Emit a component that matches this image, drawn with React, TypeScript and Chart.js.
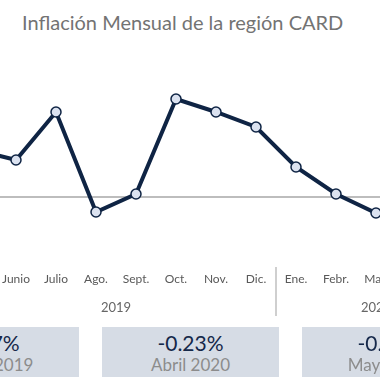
import React, { useEffect, useRef } from "react";
import { Chart, registerables } from "chart.js";

Chart.register(...registerables);

const monthLabels = ["Mayo", "Junio", "Julio", "Ago.", "Sept.", "Oct.", "Nov.", "Dic.", "Ene.", "Febr.", "Mar.", "Abr.", "Mayo"];
const inflation = [0.47, 0.37, 0.85, -0.15, 0.03, 0.98, 0.85, 0.70, 0.30, 0.03, -0.16, -0.23, -0.09];
const yearGroups = [
  { label: "2019", from: 0, to: 7 },
  { label: "2020", from: 8, to: 12 },
];
const summaryValues = ["0.47%", "-0.23%", "-0.09%"];
const summaryLabels = ["Mayo 2019", "Abril 2020", "Mayo 2020"];

const FONT = "Lato, 'Open Sans', sans-serif";
const NAVY = "#0f2444";

const groupPlugin = {
  id: "groups",
  beforeDatasetsDraw(chart: any) {
    const { ctx, chartArea, scales } = chart;
    const y0 = scales.y.getPixelForValue(0);
    ctx.save();
    ctx.strokeStyle = "#bdbdbd";
    ctx.lineWidth = 2;
    ctx.beginPath();
    ctx.moveTo(chartArea.left, y0);
    ctx.lineTo(chartArea.right, y0);
    ctx.stroke();
    ctx.restore();
  },
  afterDraw(chart: any) {
    const { ctx, chartArea, scales } = chart;
    const x = scales.x;
    const b = chartArea.bottom;
    ctx.save();
    ctx.strokeStyle = "#bfbfbf";
    ctx.lineWidth = 1.5;
    ctx.fillStyle = "#666666";
    ctx.font = `13px ${FONT}`;
    ctx.textAlign = "center";
    ctx.textBaseline = "middle";
    yearGroups.forEach((g, i) => {
      const left = x.getPixelForValue(g.from) - 20;
      const right = x.getPixelForValue(g.to) + 20;
      ctx.fillText(g.label, (left + right) / 2, b + 51);
      if (i < yearGroups.length - 1) {
        const sx = (x.getPixelForValue(g.to) + x.getPixelForValue(yearGroups[i + 1].from)) / 2;
        ctx.beginPath();
        ctx.moveTo(sx, b + 10);
        ctx.lineTo(sx, b + 59);
        ctx.stroke();
      }
    });
    ctx.restore();
  },
};

function LineChart() {
  const ref = useRef<HTMLCanvasElement>(null);
  useEffect(() => {
    if (!ref.current) return;
    const chart = new Chart(ref.current, {
      type: "line",
      data: {
        labels: monthLabels,
        datasets: [
          {
            data: inflation,
            borderColor: NAVY,
            borderWidth: 4,
            pointRadius: 5,
            pointBackgroundColor: "#dbe2f0",
            pointBorderColor: NAVY,
            pointBorderWidth: 1.5,
            tension: 0,
          },
        ],
      },
      options: {
        animation: false,
        responsive: false,
        maintainAspectRatio: false,
        layout: { autoPadding: false, padding: { left: 0, right: 0, top: 0, bottom: 43.6 } },
        plugins: { legend: { display: false }, tooltip: { enabled: false }, title: { display: false } },
        scales: {
          x: {
            offset: true,
            grid: { display: false, drawTicks: true, tickLength: 15 },
            border: { display: false },
            ticks: { color: "#595959", font: { family: FONT, size: 12 }, padding: 0, maxRotation: 0, autoSkip: false },
          },
          y: { display: false, min: -0.6, max: 1.2 },
        },
      },
      plugins: [groupPlugin],
    });
    return () => chart.destroy();
  }, []);
  return <canvas ref={ref} width={520} height={253} style={{ position: "absolute", left: -44, top: 77, width: 520, height: 253 }} />;
}

export default function App() {
  const boxLefts = [-98, 102, 302];
  return (
    <div style={{ position: "fixed", left: 0, top: 0, width: 380, height: 380, overflow: "hidden", background: "#ffffff", fontFamily: FONT }}>
      <div style={{ position: "absolute", left: 22, top: 12, fontSize: 20, lineHeight: "20px", color: "#737373", whiteSpace: "nowrap" }}>
        Inflación Mensual de la región CARD
      </div>
      <LineChart />
      {summaryValues.map((v, i) => (
        <div key={i} style={{ position: "absolute", left: boxLefts[i], top: 327, width: 177, height: 50, background: "#d6dce5", textAlign: "center" }}>
          <div style={{ position: "absolute", left: 0, right: 0, top: 4, fontSize: 21, lineHeight: "24px", color: "#15284a" }}>{v}</div>
          <div style={{ position: "absolute", left: 0, right: 0, top: 28, fontSize: 17, lineHeight: "20px", color: "#8c8c8c" }}>{summaryLabels[i]}</div>
        </div>
      ))}
    </div>
  );
}
